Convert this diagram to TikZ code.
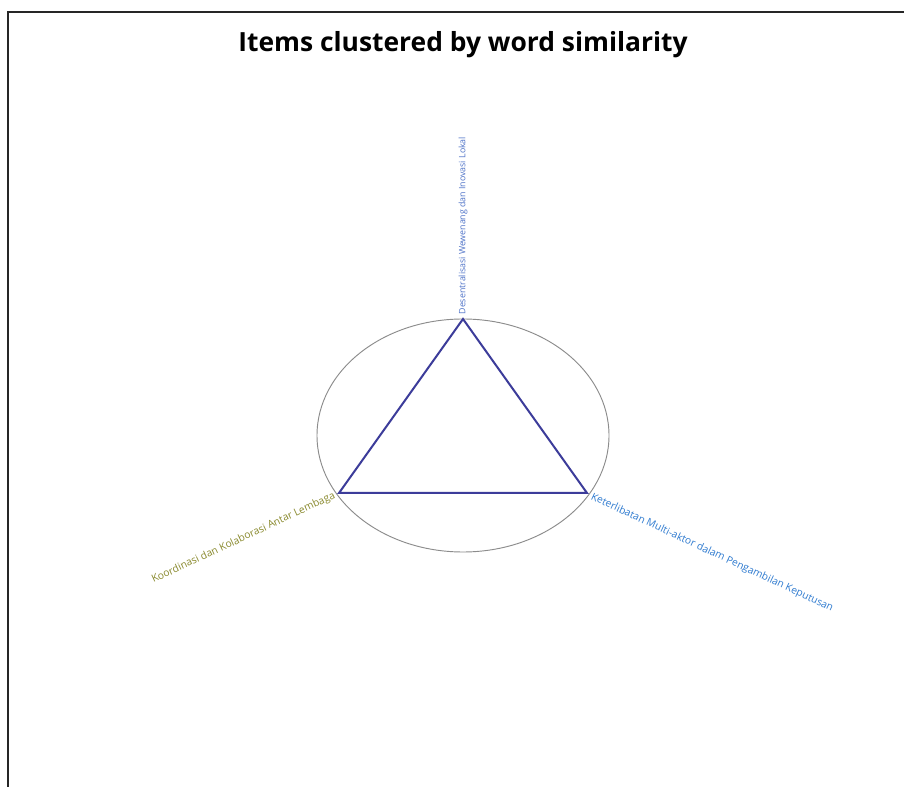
\documentclass[tikz,border=0pt]{standalone}
\usepackage{fontspec}
\setmainfont{Open Sans}
\definecolor{edgeblue}{HTML}{3C3C9A}
\definecolor{toplbl}{HTML}{4F73C8}
\definecolor{leftlbl}{HTML}{8A8A2E}
\definecolor{rightlbl}{HTML}{2F7BD0}
\tikzset{
    itemlbl/.style={inner sep=1pt,font=\fontsize{7.7}{9}\selectfont},
    edge/.style={draw=edgeblue,line width=1.5pt}
}
\begin{document}
\begin{tikzpicture}[x=0.75pt,y=-0.75pt]
    \useasboundingbox (0,0) rectangle (904,787);
    \fill[white] (0,0) rectangle (904,787);
    \draw[line width=1.2pt,black!85] (8,787) -- (8,12) -- (904,12);
    \node[font=\fontsize{19.8}{23}\selectfont\bfseries] (title) at (463,45) {Items clustered by word similarity};
    \draw[gray!90,line width=0.7pt] (463,435.5) ellipse [x radius=146, y radius=116.5];
    \coordinate (desen) at (463,319);
    \coordinate (koord) at (339,493);
    \coordinate (keter) at (587,493);
    \draw[edge] (desen) -- (koord) -- (keter) -- cycle;
    \node[itemlbl,toplbl,rotate=90,anchor=west,font=\fontsize{6.6}{8}\selectfont] (desenlbl) at (463,316) {Desentralisasi Wewenang dan Inovasi Lokal};
    \node[itemlbl,leftlbl,rotate=25,anchor=east] (koordlbl) at (336,495) {Koordinasi dan Kolaborasi Antar Lembaga};
    \node[itemlbl,rightlbl,rotate=-25,anchor=west] (keterlbl) at (590,496) {Keterlibatan Multi-aktor dalam Pengambilan Keputusan};
\end{tikzpicture}
\end{document}
